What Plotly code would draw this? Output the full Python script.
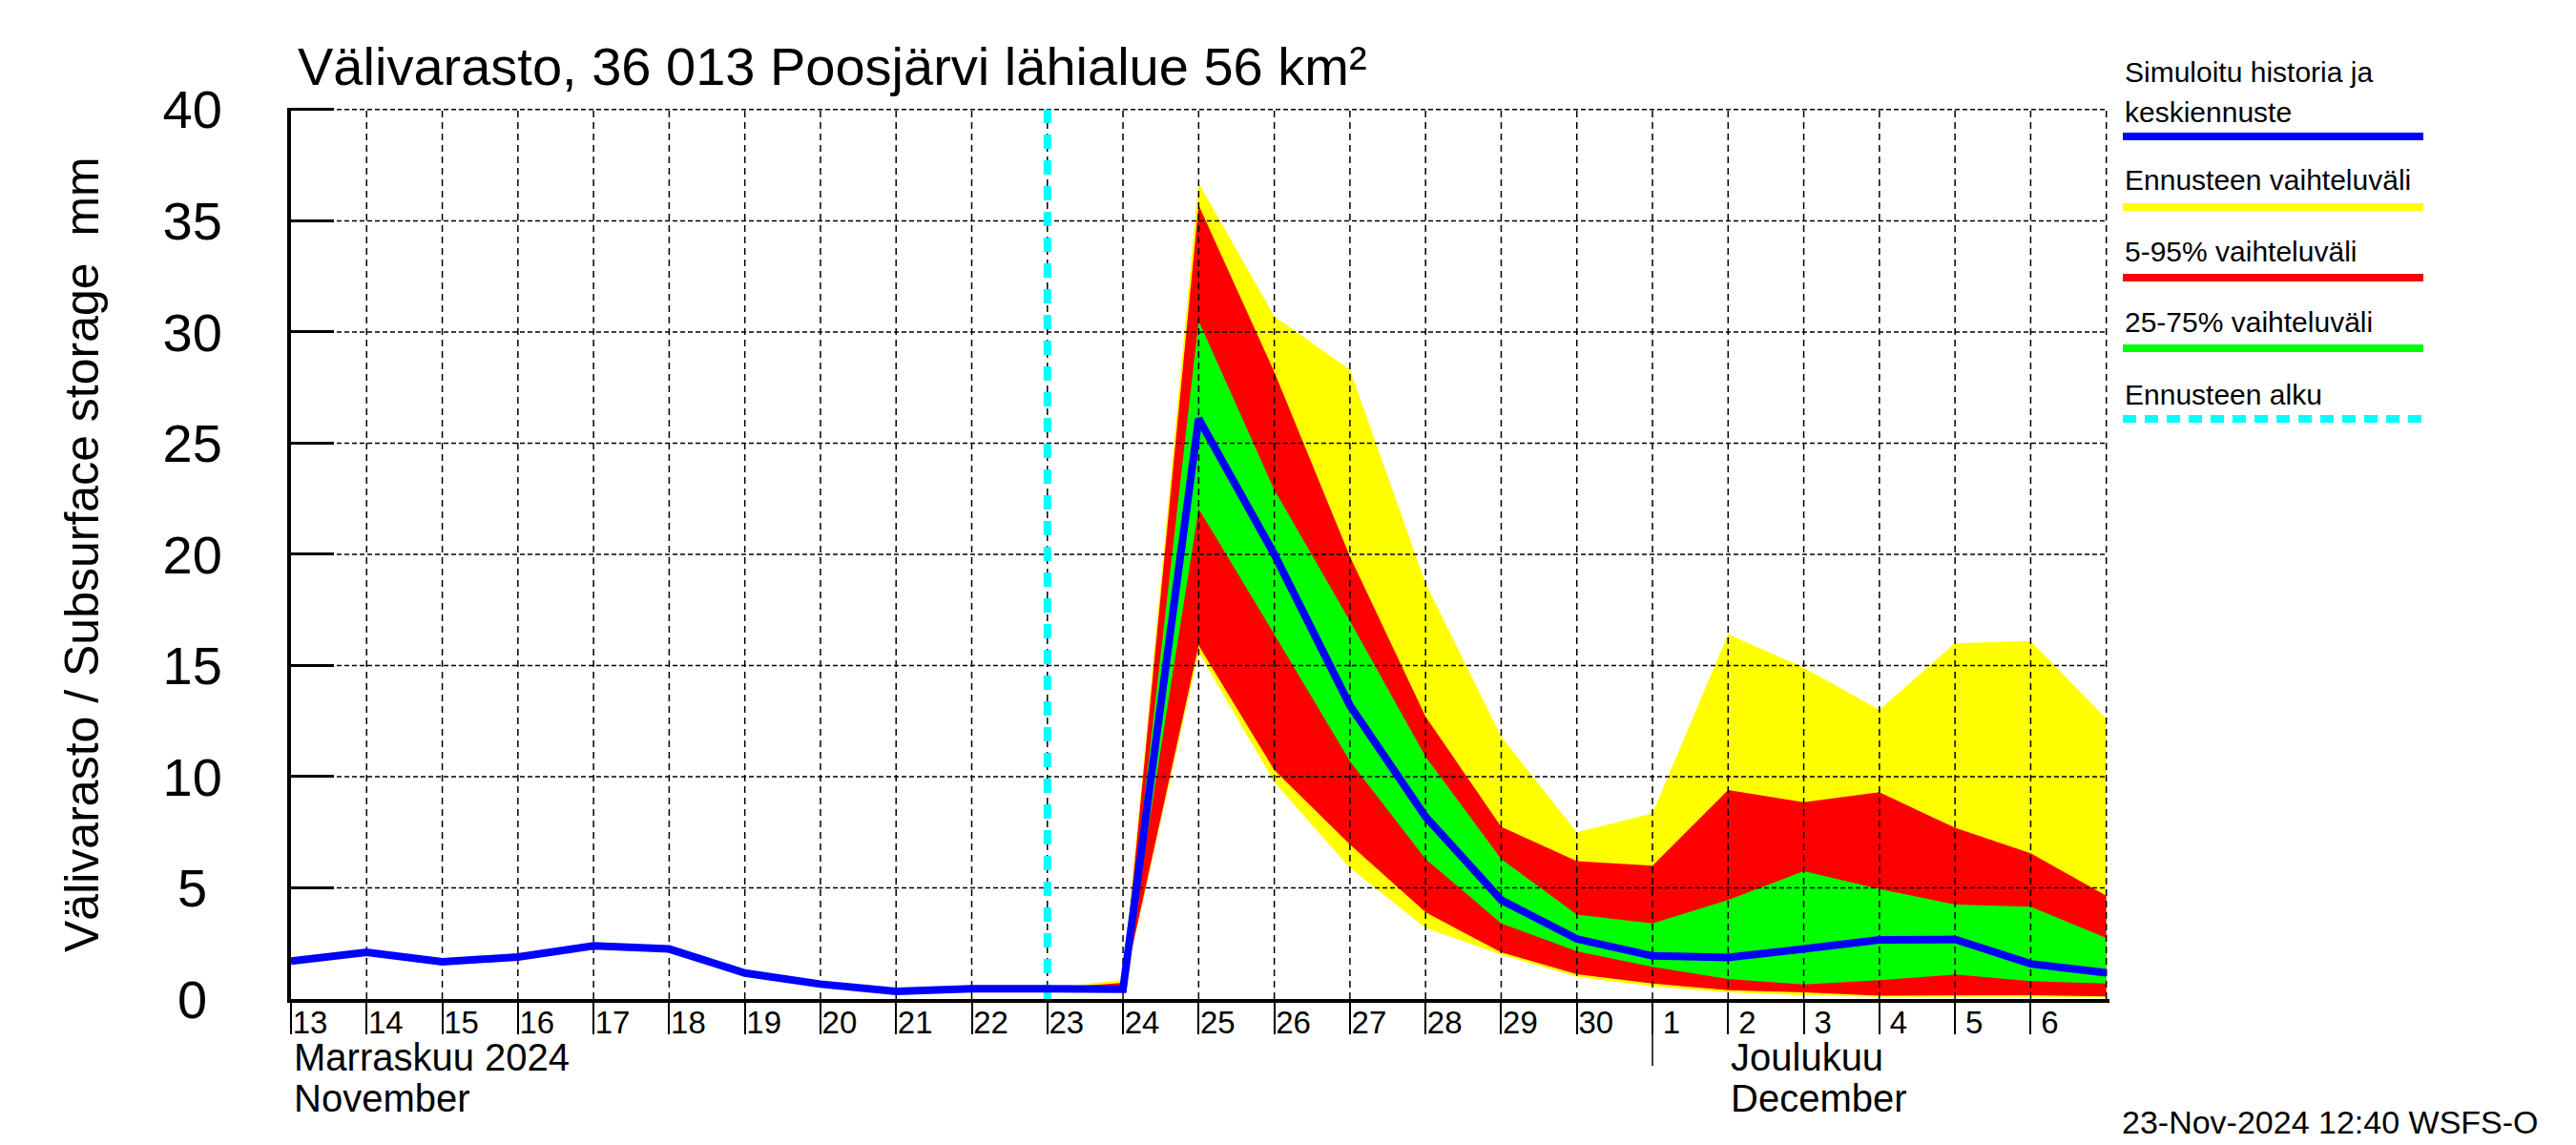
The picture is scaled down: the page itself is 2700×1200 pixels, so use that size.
import pandas as pd
import plotly.graph_objects as go

# ---------------- data ----------------
DATES = pd.date_range("2024-11-13", "2024-12-07", freq="D")
DAY_LABELS = ["13", "14", "15", "16", "17", "18", "19", "20", "21", "22", "23", "24",
              "25", "26", "27", "28", "29", "30", "1", "2", "3", "4", "5", "6"]
# simulated history + median forecast (mm), 13 Nov .. 7 Dec
MEDIAN = [1.70, 2.10, 1.67, 1.89, 2.39, 2.25, 1.17, 0.67, 0.34, 0.46, 0.46, 0.44,
          26.1, 20.0, 13.2, 8.2, 4.45, 2.7, 1.94, 1.87, 2.25, 2.66, 2.68, 1.58, 1.18]

FC_START = "2024-11-23"
FC_DATES = pd.date_range("2024-11-23", "2024-12-07", freq="D")
RANGE_MAX = [0.46, 0.87, 36.7, 30.7, 28.3, 18.7, 11.8, 7.5, 8.35, 16.4, 14.9, 13.0, 16.0, 16.1, 12.6]
P95 = [0.46, 0.73, 35.7, 28.2, 19.9, 12.7, 7.75, 6.2, 6.0, 9.4, 8.85, 9.3, 7.7, 6.55, 4.65]
P75 = [0.46, 0.60, 30.5, 22.9, 17.0, 10.9, 6.3, 3.8, 3.4, 4.45, 5.75, 4.95, 4.25, 4.15, 2.75]
P25 = [0.45, 0.45, 22.05, 16.4, 10.7, 6.3, 3.4, 2.15, 1.45, 0.9, 0.65, 0.85, 1.1, 0.8, 0.7]
P05 = [0.45, 0.42, 15.9, 10.3, 6.95, 3.9, 2.1, 1.12, 0.7, 0.4, 0.3, 0.15, 0.17, 0.17, 0.12]
RANGE_MIN = [0.45, 0.40, 15.6, 9.75, 5.9, 3.2, 2.0, 1.0, 0.57, 0.3, 0.17, 0.1, 0.1, 0.1, 0.07]

Y_TICKS = [0, 5, 10, 15, 20, 25, 30, 35, 40]
Y_TICK_TEXT = ["0\u00a0", "5\u00a0", "10", "15", "20", "25", "30", "35", "40"]
MONTH_START = "2024-12-01"

TITLE = "Välivarasto, 36 013 Poosjärvi lähialue 56 km²"
Y_TITLE = "Välivarasto / Subsurface storage\u00a0 mm"
MONTHS = [("2024-11-13", "Marraskuu 2024", "November"), ("2024-12-02", "Joulukuu", "December")]
LEGEND_LINES = [["Simuloitu historia ja", "keskiennuste"],
                ["Ennusteen vaihteluväli"],
                ["5-95% vaihteluväli"],
                ["25-75% vaihteluväli"],
                ["Ennusteen alku"]]
LEGEND_COLORS = ["#0000FF", "#FFFF00", "#FF0000", "#00FF00", "#00FFFF"]
LEGEND_DASH = ["solid", "solid", "solid", "solid", "14px,9px"]
STAMP = "23-Nov-2024 12:40 WSFS-O"

# ---------------- layout helpers ----------------
W, H = 2700, 1200
ML, MR, MT, MB = 305, 489, 113, 153
PW, PH = W - ML - MR, H - MT - MB
FONT = "Liberation Sans, Arial, Helvetica, sans-serif"


def px_x(px):
    return (px - ML) / PW


def px_y(py):
    return (H - MB - py) / PH


def band(x, lo, hi, color):
    xs = list(x) + list(x[::-1])
    ys = list(hi) + list(lo[::-1])
    return go.Scatter(x=xs, y=ys, mode="lines", fill="toself", fillcolor=color,
                      line=dict(width=0, color=color), hoverinfo="skip", showlegend=False)


fig = go.Figure()
fig.add_trace(band(FC_DATES, RANGE_MIN, RANGE_MAX, "#FFFF00"))
fig.add_trace(band(FC_DATES, P05, P95, "#FF0000"))
fig.add_trace(band(FC_DATES, P25, P75, "#00FF00"))

# grid drawn above the bands
vx, vy = [], []
for d in DATES[1:]:
    vx += [d, d, None]
    vy += [Y_TICKS[0], Y_TICKS[-1], None]
fig.add_trace(go.Scatter(x=vx, y=vy, mode="lines", line=dict(color="black", width=1.5, dash="7px,5px"),
                         hoverinfo="skip", showlegend=False))
hx, hy = [], []
for v in Y_TICKS[1:]:
    hx += [DATES[0], DATES[-1], None]
    hy += [v, v, None]
fig.add_trace(go.Scatter(x=hx, y=hy, mode="lines", line=dict(color="black", width=1.5, dash="5px,3px"),
                         hoverinfo="skip", showlegend=False))

fig.add_trace(go.Scatter(x=[FC_START, FC_START], y=[Y_TICKS[0], Y_TICKS[-1]], mode="lines",
                         line=dict(color="#00FFFF", width=8, dash="15px,12px"),
                         hoverinfo="skip", showlegend=False))
fig.add_trace(go.Scatter(x=DATES, y=MEDIAN, mode="lines", line=dict(color="#0000FF", width=8),
                         hoverinfo="skip", showlegend=False))

annotations = [
    dict(text=TITLE, x=px_x(310), y=px_y(69), xref="paper", yref="paper", xanchor="left",
         yanchor="middle", showarrow=False, font=dict(size=56, color="black")),
    dict(text=Y_TITLE, x=px_x(86), y=px_y(581), xref="paper", yref="paper", textangle=-90,
         xanchor="center", yanchor="middle", showarrow=False, font=dict(size=50, color="black")),
    dict(text=STAMP, x=px_x(2222), y=px_y(1176), xref="paper", yref="paper", xanchor="left",
         yanchor="middle", showarrow=False, font=dict(size=34, color="black")),
]
for d, fi, en in MONTHS:
    annotations.append(dict(text=fi, x=d, y=px_y(1108), xref="x", yref="paper", xanchor="left",
                            yanchor="middle", showarrow=False, font=dict(size=40, color="black"), xshift=1))
    annotations.append(dict(text=en, x=d, y=px_y(1151), xref="x", yref="paper",
                            xanchor="left", yanchor="middle", showarrow=False,
                            font=dict(size=40, color="black"), xshift=1))

shapes = [dict(type="line", xref="x", yref="paper", x0=MONTH_START, x1=MONTH_START,
               y0=0, y1=px_y(1117), line=dict(color="black", width=1.5))]

leg_text_y = [[76, 117], [189], [263], [337], [413]]
leg_line_y = [143, 217, 291, 365, 439]
for lines, ys, color, dash, ly in zip(LEGEND_LINES, leg_text_y, LEGEND_COLORS, LEGEND_DASH, leg_line_y):
    for t, ty in zip(lines, ys):
        annotations.append(dict(text=t, x=px_x(2225), y=px_y(ty), xref="paper", yref="paper",
                                xanchor="left", yanchor="middle", showarrow=False,
                                font=dict(size=30, color="black")))
    shapes.append(dict(type="line", xref="paper", yref="paper", x0=px_x(2225), x1=px_x(2540),
                       y0=px_y(ly), y1=px_y(ly), line=dict(color=color, width=8, dash=dash)))

fig.update_layout(
    width=W, height=H,
    margin=dict(l=ML, r=MR, t=MT, b=MB, pad=0),
    paper_bgcolor="white", plot_bgcolor="white",
    font=dict(family=FONT, color="black"),
    showlegend=False,
    annotations=annotations,
    shapes=shapes,
    xaxis=dict(type="date", range=[DATES[0], DATES[-1] + pd.Timedelta(hours=1)],
               tickvals=list(DATES[:-1]), ticktext=DAY_LABELS,
               showgrid=False, zeroline=False, showline=True, linewidth=4, linecolor="black",
               ticks="outside", ticklen=33, tickwidth=1.5, tickcolor="black",
               tickfont=dict(size=33, color="black"), ticklabelshift=20, ticklabelstandoff=-41),
    yaxis=dict(range=[0, 40.08], tickvals=Y_TICKS, ticktext=Y_TICK_TEXT,
               showgrid=False, zeroline=False, showline=True, linewidth=4, linecolor="black",
               ticks="inside", ticklen=45, tickwidth=3, tickcolor="black",
               tickfont=dict(size=56, color="black"), ticklabelstandoff=57),
)

fig.write_html("out.html", config={"displayModeBar": False},
               post_script="document.body.style.margin='0';")
